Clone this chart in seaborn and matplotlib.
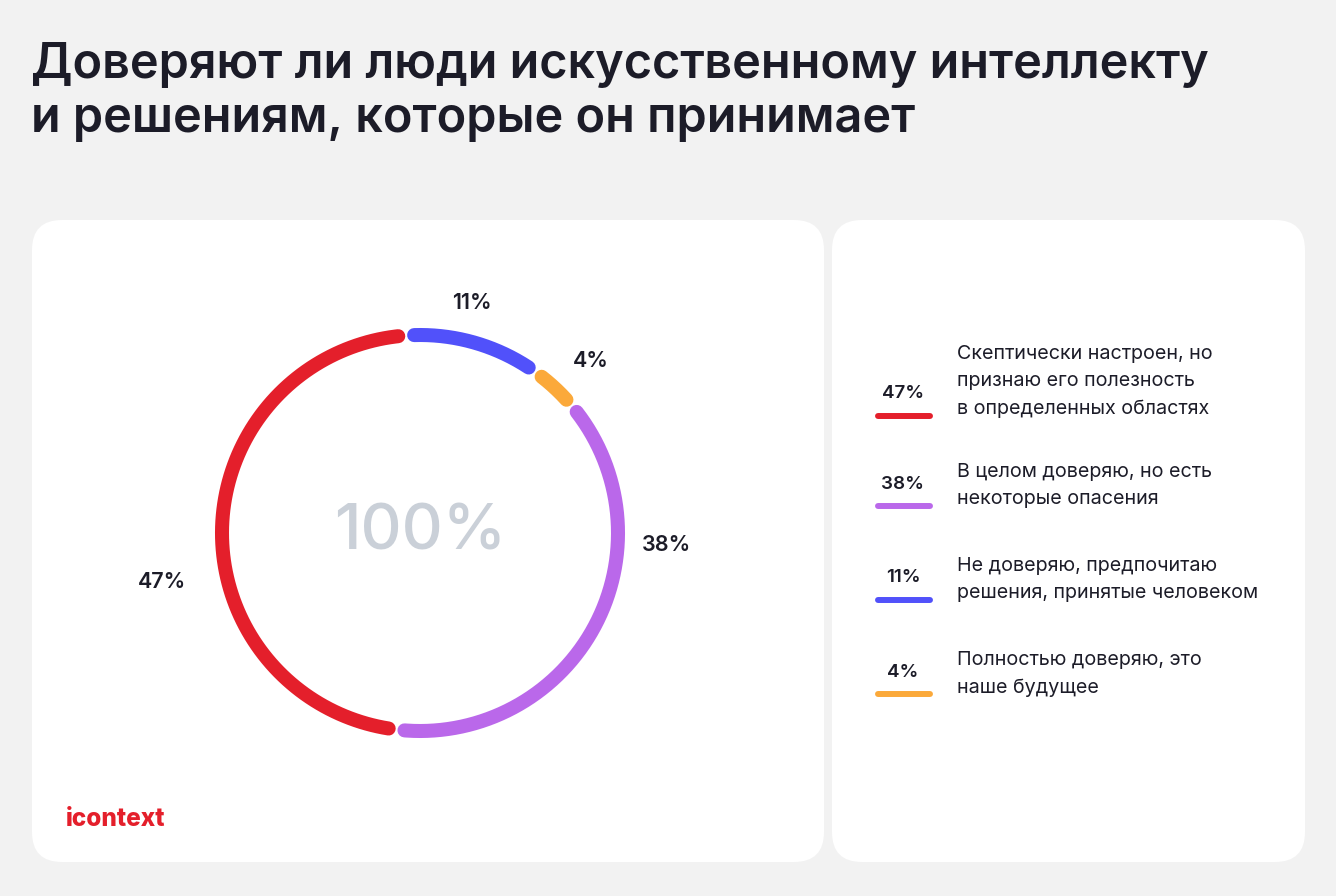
import numpy as np
import matplotlib
matplotlib.use("Agg")
import matplotlib.pyplot as plt
import seaborn as sns
from matplotlib.patches import FancyBboxPatch
from matplotlib.transforms import IdentityTransform

# ---------------- data ----------------
categories = [
    "Не доверяю, предпочитаю\nрешения, принятые человеком",
    "Полностью доверяю, это\nнаше будущее",
    "В целом доверяю, но есть\nнекоторые опасения",
    "Скептически настроен, но\nпризнаю его полезность\nв определенных областях",
]
values = [11, 4, 38, 47]
colors = ["#5151FA", "#FBA93A", "#BA68EA", "#E41F2B"]
legend_order = [3, 2, 0, 1]
title_lines = ["Доверяют ли люди искусственному интеллекту",
               "и решениям, которые он принимает"]
center_label = "100%"
brand = "icontext"

# label placement (angle deg clockwise from top, radius relative to ring)
label_angle = [12.8, 44.8, 92.8, 259.2]
label_radius = [1.19, 1.225, 1.244, 1.326]

W, H = 1336, 896
sns.set_theme(style="white")
plt.rcParams["font.family"] = ["Inter", "DejaVu Sans"]
DARK = "#1C1C28"

fig = plt.figure(figsize=(W / 100, H / 100), dpi=100)
fig.patch.set_facecolor("#F2F2F2")

def fx(x):
    return x / W

def fy(y):
    return 1 - y / H

# panels (pixel coords, origin bottom-left)
for (x0, x1) in [(32, 824), (832, 1305)]:
    p = FancyBboxPatch((x0, H - 862), x1 - x0, 862 - 220,
                       boxstyle="round,pad=0,rounding_size=30",
                       transform=IdentityTransform(), facecolor="white",
                       edgecolor="none", zorder=-10)
    fig.patches.append(p)

# title
for i, t in enumerate(title_lines):
    fig.text(fx(31), fy(78 + 54 * i), t, fontsize=35, fontweight="semibold",
             color=DARK, va="baseline", ha="left")

# ring
cx, cy, R = 420, 533, 198
rmax = 1.35
rad_px = R * rmax
ax = fig.add_axes([fx(cx - rad_px), fy(cy + rad_px), 2 * rad_px / W, 2 * rad_px / H],
                  projection="polar")
ax.set_theta_zero_location("N")
ax.set_theta_direction(-1)
ax.set_ylim(0, rmax)
ax.axis("off")
ax.set_zorder(5)

total = sum(values)
gap_deg = 4.6
start = -4.0
for v, c in zip(values, colors):
    span = v / total * 360
    th = np.deg2rad(np.linspace(start + gap_deg / 2, start + span - gap_deg / 2, 200))
    sns.lineplot(x=th, y=np.ones_like(th), ax=ax, color=c, linewidth=10.1,
                 sort=False, solid_capstyle="round", legend=False)
    start += span

for v, a, r in zip(values, label_angle, label_radius):
    ax.text(np.deg2rad(a), r, f"{v}%", fontsize=15.5, fontweight="semibold",
            color=DARK, ha="center", va="center")

ax.text(0, 0, center_label, fontsize=46, color="#CAD0D8", ha="center",
        va="center", fontweight="medium")

# logo
fig.text(fx(66), fy(826), brand, fontsize=17.5, fontweight="heavy",
         color="#E41F2B", ha="left", va="baseline")

# legend
sw_y = [416, 506, 600, 694]
for idx, y in zip(legend_order, sw_y):
    line = plt.Line2D([fx(878), fx(930)], [fy(y), fy(y)], transform=fig.transFigure,
                      color=colors[idx], linewidth=4.3, solid_capstyle="round")
    fig.add_artist(line)
    fig.text(fx(903), fy(y - 22), f"{values[idx]}%", fontsize=13.5,
             fontweight="semibold", color=DARK, ha="center", va="center")
    nl = categories[idx].count("\n")
    fig.text(fx(957), fy(y - 6 - nl * 28.5 / 2), categories[idx], fontsize=14.2,
             color=DARK, ha="left", va="center", linespacing=1.65)

fig.savefig("out.png", dpi=100, facecolor=fig.get_facecolor())
